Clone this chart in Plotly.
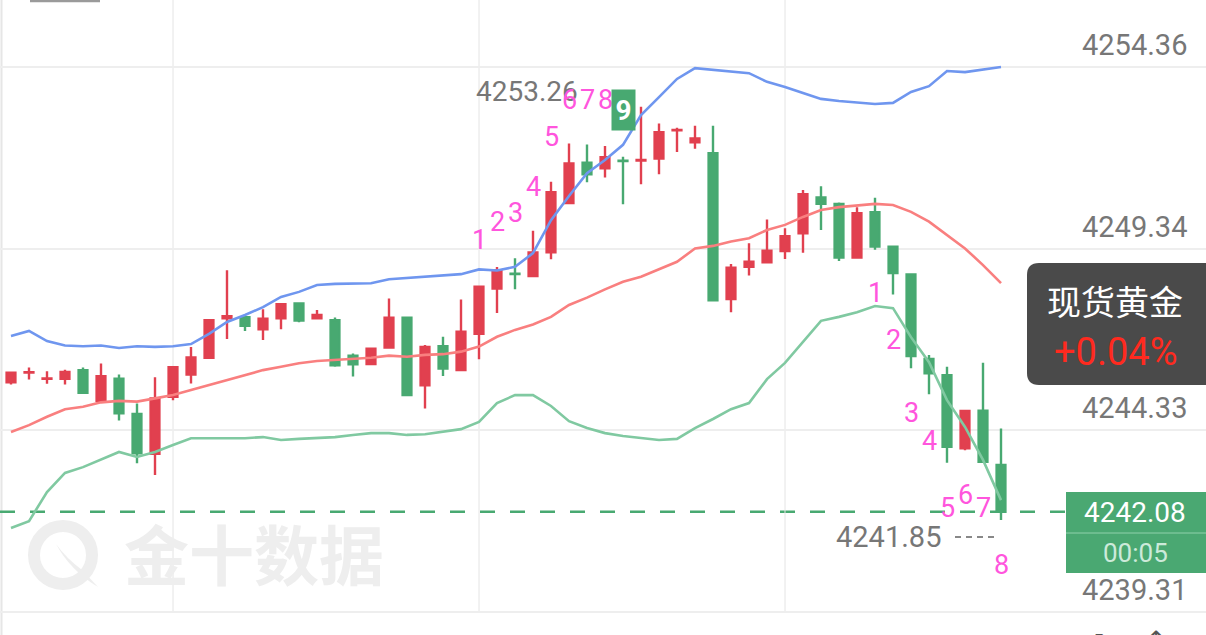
import plotly.graph_objects as go

# ---------------- data ----------------
opens = [4245.65, 4245.92, 4245.75, 4245.75, 4245.99, 4245.14, 4245.75, 4244.78, 4243.68, 4245.25,
         4245.87, 4246.33, 4247.42, 4247.45, 4247.12, 4247.42, 4247.83, 4247.42, 4247.37, 4246.39,
         4246.16, 4246.61, 4247.44, 4245.57, 4246.65, 4245.99, 4246.99, 4248.24, 4248.65, 4248.59,
         4249.24, 4250.60, 4251.72, 4251.56, 4251.77, 4251.78, 4251.83, 4252.61, 4252.28, 4251.98,
         4247.95, 4248.84, 4248.97, 4249.28, 4249.77, 4250.76, 4250.58, 4249.10, 4250.35, 4249.40,
         4248.63, 4246.30, 4245.85, 4243.83, 4244.87, 4243.37]
closes = [4245.92, 4245.93, 4245.76, 4245.94, 4245.36, 4245.82, 4244.80, 4243.69, 4245.21, 4246.07,
          4246.34, 4247.37, 4247.48, 4247.21, 4247.41, 4247.81, 4247.36, 4247.51, 4246.12, 4246.15,
          4246.58, 4247.44, 4245.30, 4246.63, 4246.03, 4247.05, 4248.29, 4248.75, 4248.64, 4249.24,
          4250.90, 4251.70, 4251.40, 4251.87, 4251.76, 4251.79, 4252.56, 4252.62, 4252.39, 4247.92,
          4248.82, 4248.98, 4249.29, 4249.69, 4250.85, 4250.58, 4249.10, 4250.32, 4249.40, 4248.67,
          4246.38, 4245.90, 4243.87, 4244.86, 4243.46, 4242.08]
highs = [4245.94, 4246.06, 4245.96, 4246.00, 4246.06, 4246.17, 4245.87, 4245.07, 4245.79, 4246.07,
         4246.63, 4247.37, 4248.75, 4247.45, 4247.67, 4247.81, 4247.83, 4247.65, 4247.44, 4246.45,
         4246.58, 4247.97, 4247.45, 4246.68, 4246.91, 4247.94, 4248.30, 4248.84, 4249.08, 4249.84,
         4251.19, 4252.25, 4252.22, 4252.18, 4251.88, 4253.26, 4252.80, 4252.68, 4252.74, 4252.74,
         4248.92, 4249.49, 4250.15, 4249.91, 4250.96, 4251.07, 4250.62, 4250.49, 4250.75, 4249.41,
         4248.64, 4246.41, 4246.08, 4244.87, 4246.19, 4244.38]
lows = [4245.59, 4245.73, 4245.61, 4245.59, 4245.35, 4245.13, 4244.60, 4243.42, 4243.09, 4245.16,
        4245.62, 4246.32, 4246.85, 4247.07, 4246.82, 4247.12, 4247.31, 4247.41, 4246.08, 4245.81,
        4246.15, 4246.60, 4245.27, 4244.93, 4245.83, 4245.98, 4246.29, 4247.57, 4248.22, 4248.58,
        4249.05, 4250.57, 4251.18, 4251.31, 4250.57, 4251.12, 4251.40, 4252.01, 4252.10, 4247.91,
        4247.59, 4248.60, 4248.96, 4249.06, 4249.23, 4249.86, 4249.00, 4249.09, 4249.31, 4248.08,
        4246.04, 4245.32, 4243.43, 4243.78, 4243.45, 4241.85]

boll_upper = [4246.93, 4247.07, 4246.79, 4246.67, 4246.65, 4246.67, 4246.60, 4246.65, 4246.63, 4246.65,
              4246.71, 4246.99, 4247.32, 4247.51, 4247.73, 4248.01, 4248.15, 4248.34, 4248.37, 4248.37,
              4248.39, 4248.50, 4248.53, 4248.56, 4248.59, 4248.64, 4248.77, 4248.74, 4248.84, 4249.22,
              4250.13, 4250.80, 4251.43, 4251.79, 4252.21, 4253.03, 4253.53, 4254.03, 4254.33, 4254.28,
              4254.22, 4254.19, 4253.95, 4253.81, 4253.64, 4253.48, 4253.42, 4253.39, 4253.34, 4253.37,
              4253.67, 4253.83, 4254.25, 4254.22, 4254.30, 4254.36]
boll_mid = [4244.28, 4244.47, 4244.70, 4244.91, 4244.98, 4245.10, 4245.14, 4245.12, 4245.21, 4245.30,
            4245.44, 4245.58, 4245.73, 4245.85, 4245.99, 4246.08, 4246.18, 4246.24, 4246.27, 4246.29,
            4246.33, 4246.39, 4246.36, 4246.41, 4246.43, 4246.50, 4246.64, 4246.91, 4247.10, 4247.25,
            4247.46, 4247.79, 4247.99, 4248.22, 4248.43, 4248.57, 4248.77, 4248.98, 4249.35, 4249.42,
            4249.54, 4249.63, 4249.86, 4250.00, 4250.22, 4250.41, 4250.49, 4250.53, 4250.58, 4250.55,
            4250.36, 4250.09, 4249.72, 4249.35, 4248.89, 4248.39]
boll_lower = [4241.63, 4241.82, 4242.62, 4243.15, 4243.31, 4243.53, 4243.73, 4243.59, 4243.73, 4243.92,
              4244.11, 4244.11, 4244.11, 4244.11, 4244.14, 4244.06, 4244.09, 4244.11, 4244.14, 4244.20,
              4244.25, 4244.25, 4244.20, 4244.22, 4244.28, 4244.36, 4244.56, 4245.08, 4245.30, 4245.30,
              4245.00, 4244.58, 4244.39, 4244.25, 4244.17, 4244.11, 4244.06, 4244.09, 4244.39, 4244.64,
              4244.91, 4245.08, 4245.74, 4246.19, 4246.77, 4247.35, 4247.46, 4247.59, 4247.76, 4247.70,
              4246.90, 4246.21, 4245.16, 4244.42, 4243.51, 4242.40]

y_ticks = [4254.36, 4249.34, 4244.33, 4239.31]
y_tick_labels = ["4254.36", "4249.34", "4244.33", "4239.31"]
x_grid_idx = [9, 26, 43]

# TD sequential counts: (candle index, label, price position)
td_up = [(26, "1", 4249.58), (27, "2", 4250.08), (28, "3", 4250.33), (29, "4", 4251.05),
         (30, "5", 4252.43), (31, "6", 4253.45), (32, "7", 4253.45), (33, "8", 4253.45)]
td_up_nine = (34, "9", 4253.17)
td_dn = [(48, "1", 4248.12), (49, "2", 4246.82), (50, "3", 4244.80), (51, "4", 4244.03),
         (52, "5", 4242.18), (53, "6", 4242.54), (54, "7", 4242.18), (55, "8", 4240.61)]

high_label = "4253.26"
low_label = "4241.85"
last_price = "4242.08"
countdown = "00:05"
instrument = "现货黄金"
change_pct = "+0.04%"
watermark = "金十数据"

# ---------------- style ----------------
W, H = 1206, 635
RED = "#e1404f"
GREEN = "#48a971"
BLUE = "#6f96ef"
SALMON = "#f97f7f"
LGREEN = "#80c9a1"
MAGENTA = "#ff55dd"
GRAY = "#777777"
NUM_FONT = "Roboto"
CJK_FONT = "Noto Sans CJK SC"

# pixel geometry of the price axis (tick grid lines at y=67 and y=612)
top_px, bot_px = 67, 612
ppu = (bot_px - top_px) / (y_ticks[0] - y_ticks[-1])
y_top = y_ticks[0] + top_px / ppu
y_bot = y_ticks[-1] - (H - bot_px) / ppu
step_px, first_px = 18, 11
x_lo = -first_px / step_px
x_hi = (W - first_px) / step_px


def pxx(x):
    return x / W


def pxy(y):
    return 1 - y / H


def rrect(x0, y0, x1, y1, r):
    pts = [
        ("M", [(x0 + r, y0)]), ("L", [(x1 - r, y0)]), ("Q", [(x1, y0), (x1, y0 + r)]),
        ("L", [(x1, y1 - r)]), ("Q", [(x1, y1), (x1 - r, y1)]), ("L", [(x0 + r, y1)]),
        ("Q", [(x0, y1), (x0, y1 - r)]), ("L", [(x0, y0 + r)]), ("Q", [(x0, y0), (x0 + r, y0)]),
    ]
    s = ""
    for cmd, ps in pts:
        s += cmd + " " + " ".join(f"{pxx(a):.5f},{pxy(b):.5f}" for a, b in ps) + " "
    return s + "Z"


x = list(range(len(opens)))

fig = go.Figure()
fig.add_trace(go.Candlestick(
    x=x, open=opens, high=highs, low=lows, close=closes,
    increasing=dict(line=dict(color=RED, width=2.4), fillcolor=RED),
    decreasing=dict(line=dict(color=GREEN, width=2.4), fillcolor=GREEN),
    whiskerwidth=0, hoverinfo="skip", showlegend=False,
))
for vals, col in [(boll_upper, BLUE), (boll_mid, SALMON), (boll_lower, LGREEN)]:
    fig.add_trace(go.Scatter(x=x, y=vals, mode="lines", line=dict(color=col, width=2.6),
                             hoverinfo="skip", showlegend=False))

shapes = []
# vertical grid lines
for gx in x_grid_idx:
    shapes.append(dict(type="line", xref="x", yref="y", x0=gx, x1=gx, y0=y_ticks[-1], y1=y_top,
                       line=dict(color="#e4e4e4", width=1), layer="below"))
# left border
shapes.append(dict(type="line", xref="paper", yref="paper", x0=pxx(1.5), x1=pxx(1.5), y0=0, y1=1,
                   line=dict(color="#e6e6e6", width=2), layer="below"))
# top-left button edge
shapes.append(dict(type="line", xref="paper", yref="paper", x0=pxx(30), x1=pxx(100), y0=pxy(1), y1=pxy(1),
                   line=dict(color="#9a9a9a", width=2.5)))
# watermark logo ring
shapes.append(dict(type="circle", xref="paper", yref="paper",
                   x0=pxx(34), x1=pxx(92), y0=pxy(584), y1=pxy(526),
                   line=dict(color="#eeeeee", width=12), layer="below"))
shapes.append(dict(type="path", xref="paper", yref="paper",
                   path=f"M {pxx(56)},{pxy(544)} Q {pxx(70)},{pxy(570)} {pxx(98)},{pxy(587)} "
                        f"L {pxx(82)},{pxy(570)} Q {pxx(66)},{pxy(558)} {pxx(56)},{pxy(544)} Z",
                   fillcolor="#eeeeee", line=dict(width=0), layer="below"))
# last price dashed line
shapes.append(dict(type="line", xref="paper", yref="y", x0=0, x1=pxx(1066),
                   y0=closes[-1], y1=closes[-1],
                   line=dict(color=GREEN, width=2.6, dash="15px,15px"), layer="below"))
# low label leader dashes
shapes.append(dict(type="line", xref="paper", yref="paper", x0=pxx(955), x1=pxx(997),
                   y0=pxy(537), y1=pxy(537), line=dict(color="#888888", width=1.8, dash="6px,5px")))
# instrument box
shapes.append(dict(type="path", xref="paper", yref="paper", path=rrect(1027, 263, 1222, 385, 12),
                   fillcolor="#4a4a4a", line=dict(width=0)))
# price box
shapes.append(dict(type="rect", xref="paper", yref="paper", x0=pxx(1066), x1=1, y0=pxy(573), y1=pxy(492),
                   fillcolor="#4aa872", line=dict(width=0)))
shapes.append(dict(type="line", xref="paper", yref="paper", x0=pxx(1066), x1=1, y0=pxy(533), y1=pxy(533),
                   line=dict(color="#8fd1ab", width=1)))

ann = []
# watermark text
ann.append(dict(xref="paper", yref="paper", x=pxx(254), y=pxy(552), text="<b>" + watermark + "</b>",
                showarrow=False, font=dict(family=CJK_FONT, size=65, color="#eeeeee"),
                xanchor="center", yanchor="middle"))
# axis labels (above grid lines)
for val, lab in zip(y_ticks, y_tick_labels):
    ypix = top_px + (y_ticks[0] - val) * ppu - 22
    ann.append(dict(xref="paper", yref="paper", x=pxx(1189), y=pxy(ypix), text=lab, showarrow=False,
                    xanchor="right", yanchor="middle", font=dict(family=NUM_FONT, size=29, color=GRAY)))
# high / low labels
ann.append(dict(xref="paper", yref="paper", x=pxx(474), y=pxy(91), text=high_label, showarrow=False,
                xanchor="left", yanchor="middle", font=dict(family=NUM_FONT, size=28, color=GRAY)))
ann.append(dict(xref="paper", yref="paper", x=pxx(834), y=pxy(537), text=low_label, showarrow=False,
                xanchor="left", yanchor="middle", font=dict(family=NUM_FONT, size=29, color=GRAY)))
# TD counts
for i, t, yv in td_up + td_dn:
    ann.append(dict(xref="x", yref="y", x=i, y=yv, text=t, showarrow=False, xanchor="center",
                    yanchor="middle", font=dict(family=NUM_FONT, size=27, color=MAGENTA)))
ann.append(dict(xref="x", yref="y", x=td_up_nine[0], y=td_up_nine[2], text="<b>" + td_up_nine[1] + "</b>",
                showarrow=False, xanchor="center", yanchor="middle", bgcolor=GREEN, width=23, height=40,
                borderpad=0, font=dict(family=NUM_FONT, size=28, color="white")))
# instrument box text
ann.append(dict(xref="paper", yref="paper", x=pxx(1115), y=pxy(300), text=instrument, showarrow=False,
                xanchor="center", yanchor="middle", font=dict(family=CJK_FONT, size=34, color="white")))
ann.append(dict(xref="paper", yref="paper", x=pxx(1115), y=pxy(352), text=change_pct, showarrow=False,
                xanchor="center", yanchor="middle", font=dict(family=NUM_FONT, size=38, color="#ff2a1f")))
# price box text
ann.append(dict(xref="paper", yref="paper", x=pxx(1135), y=pxy(512), text=last_price, showarrow=False,
                xanchor="center", yanchor="middle", font=dict(family=NUM_FONT, size=28, color="white")))
ann.append(dict(xref="paper", yref="paper", x=pxx(1135), y=pxy(553), text=countdown, showarrow=False,
                xanchor="center", yanchor="middle", font=dict(family=NUM_FONT, size=26, color="#cdeada")))
# bottom toolbar icons (cut off at the bottom edge, as in the source)
ann.append(dict(xref="paper", yref="paper", x=pxx(1096), y=pxy(640), text="↗", showarrow=False,
                xanchor="center", yanchor="middle", font=dict(family="DejaVu Sans", size=24, color="#555555")))
ann.append(dict(xref="paper", yref="paper", x=pxx(1156), y=pxy(640), text="↑", showarrow=False,
                xanchor="center", yanchor="middle", font=dict(family="DejaVu Sans", size=24, color="#555555")))

fig.update_layout(
    width=W, height=H, margin=dict(l=0, r=0, t=0, b=0, pad=0),
    paper_bgcolor="white", plot_bgcolor="white", boxgap=0.3,
    showlegend=False, hovermode=False,
    xaxis=dict(range=[x_lo, x_hi], showgrid=False, zeroline=False, showticklabels=False,
               rangeslider=dict(visible=False), fixedrange=True, showline=False, ticks=""),
    yaxis=dict(range=[y_bot, y_top], tickvals=y_ticks, showticklabels=False, showgrid=True,
               gridcolor="#eeeeee", gridwidth=2, zeroline=False, fixedrange=True, showline=False, ticks=""),
    shapes=shapes, annotations=ann,
)

fig.write_html("out.html", config={"displayModeBar": False},
               post_script="document.body.style.margin='0';document.body.style.padding='0';")
